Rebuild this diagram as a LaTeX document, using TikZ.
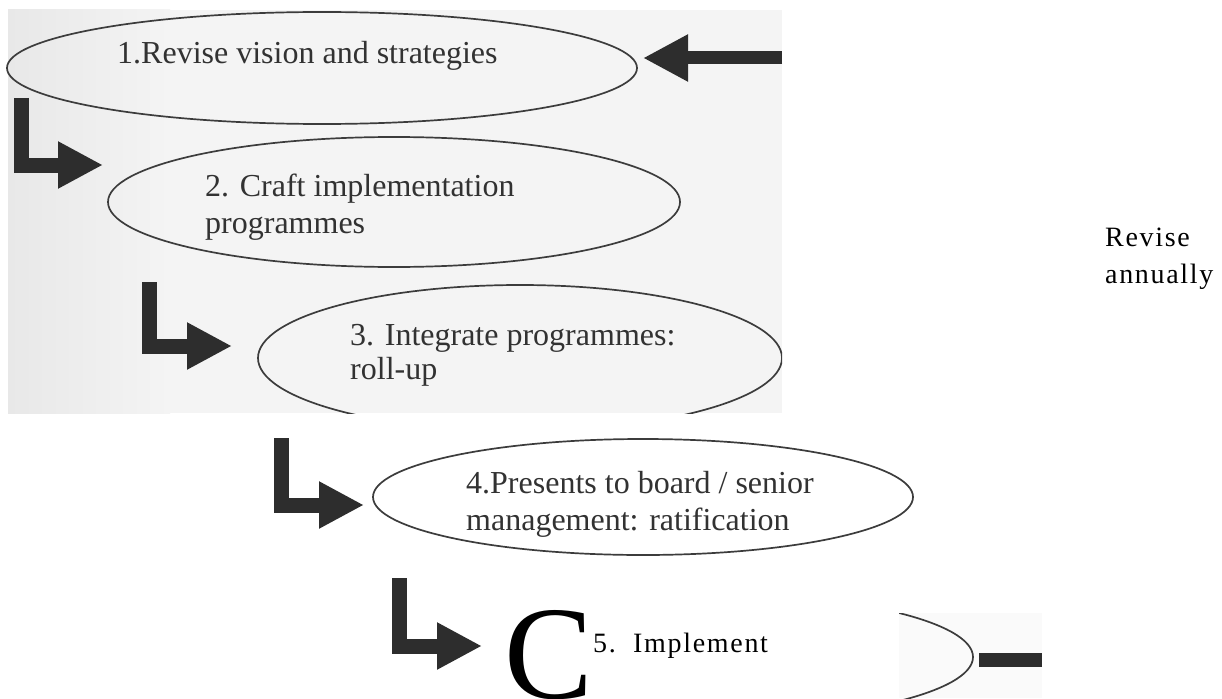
\documentclass[tikz,border=0pt]{standalone}
\usepackage{fontspec}
\setmainfont{Liberation Serif}
\newfontfamily\spacedfont[LetterSpace=6]{Liberation Serif}
\usetikzlibrary{shapes.geometric,arrows.meta}
\definecolor{scanbg}{RGB}{244,244,244}
\definecolor{scanedge}{RGB}{232,232,232}
\definecolor{fragbg}{RGB}{250,250,250}
\definecolor{ink}{RGB}{50,50,50}
\definecolor{arrowfill}{RGB}{45,45,45}
\definecolor{linegray}{RGB}{60,60,60}
\begin{document}
\begin{tikzpicture}[x=1pt,y=-1pt,
  oval/.style={draw=linegray, line width=1.7pt, ellipse, inner sep=0pt},
  scantext/.style={anchor=base west, inner sep=0pt, text=ink, font=\fontsize{32}{37}\selectfont},
  newtext/.style={anchor=base west, inner sep=0pt, text=black, font=\spacedfont\fontsize{28}{37}\selectfont},
  blockarrow/.style={draw=arrowfill, line width=15pt, line join=miter, line cap=butt,
    -{Triangle[length=45pt,width=44pt]}}]
\useasboundingbox (0,0) rectangle (1222,698);
\fill[white] (0,0) rectangle (1222,698);
% scanned background
\fill[scanbg] (8,10) rectangle (782,413);
\shade[left color=scanedge, right color=scanbg] (8,10) rectangle (170,413);
\fill[fragbg] (899,613) rectangle (1042,698);

% ellipses
\node[oval, minimum width=630pt, minimum height=112pt] (e1) at (322,68) {};
\node[oval, minimum width=572pt, minimum height=130pt] (e2) at (394,202) {};
\begin{scope}
  \clip (8,10) rectangle (782,413);
  \node[oval, minimum width=524pt, minimum height=146pt] (e3) at (520,358) {};
\end{scope}
\node[oval, minimum width=540pt, minimum height=116pt] (e4) at (643,497) {};
\begin{scope}
  \clip (899,613) rectangle (1042,698);
  \node[oval, minimum width=540pt, minimum height=128pt] (e5) at (703,657) {};
\end{scope}

% texts
\node[scantext] (t1) at (117,64) {1.Revise vision and strategies};
\node[scantext] (t2a) at (205,196) {2. Craft implementation};
\node[scantext] (t2b) at (205,233) {programmes};
\node[scantext] (t3a) at (350,345) {3. Integrate programmes:};
\node[scantext] (t3b) at (350,379) {roll-up};
\node[scantext] (t4a) at (466,493) {4.Presents to board / senior};
\node[scantext] (t4b) at (466,530) {management: ratification};
\node[anchor=base west, inner sep=0pt, font=\fontsize{133}{133}\selectfont] (bigC) at (504,698) {C};
\node[newtext] (t5) at (593,652) {5.\ \ Implement};
\node[newtext] (r1) at (1105,246) {Revise};
\node[newtext] (r2) at (1105,283) {annually};

% arrows
\coordinate (a1s) at (782,58);
\coordinate (a1t) at (643,58);
\draw[blockarrow, line width=13pt] (a1s) -- (a1t);
\coordinate (a2s) at (21.5,98);
\coordinate (a2t) at (103,165);
\draw[blockarrow] (a2s) |- (a2t);
\coordinate (a3s) at (149.5,282);
\coordinate (a3t) at (232,346);
\draw[blockarrow] (a3s) |- (a3t);
\coordinate (a4s) at (281.5,438);
\coordinate (a4t) at (364,505);
\draw[blockarrow] (a4s) |- (a4t);
\coordinate (a5s) at (399.5,578);
\coordinate (a5t) at (482,646);
\draw[blockarrow] (a5s) |- (a5t);
\coordinate (b0) at (979,660);
\coordinate (b1) at (1042,660);
\draw[arrowfill, line width=14pt] (b0) -- (b1);
\end{tikzpicture}
\end{document}
